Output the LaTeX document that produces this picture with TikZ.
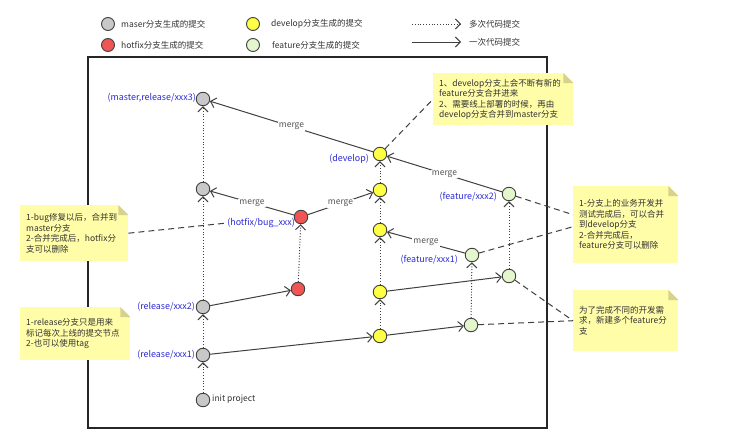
\documentclass[tikz,border=0pt]{standalone}
\usepackage{fontspec}
\setmainfont{Noto Sans CJK SC}
\usetikzlibrary{arrows.meta}
\definecolor{linec}{HTML}{404040}
\definecolor{mfill}{HTML}{C8C8C8}
\definecolor{hfill}{HTML}{F05555}
\definecolor{dfill}{HTML}{FFFF44}
\definecolor{ffill}{HTML}{E4F6CC}
\definecolor{lblue}{HTML}{2A2AD8}
\definecolor{mtext}{HTML}{555555}
\definecolor{notefill}{HTML}{FFFDA8}
\definecolor{foldc}{HTML}{D6D28C}
\definecolor{ttext}{HTML}{333333}
\begin{document}
\begin{tikzpicture}[x=1pt,y=-1pt,
  >={Straight Barb[length=5pt,width=10pt]},
  commit/.style={circle,draw=linec,line width=0.9pt,minimum size=13.5pt,inner sep=0pt},
  mc/.style={commit,fill=mfill},
  hc/.style={commit,fill=hfill},
  dc/.style={commit,fill=dfill},
  fc/.style={commit,fill=ffill},
  lbl/.style={text=lblue,font=\fontsize{8.9}{10}\selectfont,inner sep=0pt},
  legtext/.style={text=ttext,font=\fontsize{8.5}{10}\selectfont,inner sep=0pt,anchor=west},
  one/.style={draw=linec,line width=1pt,->},
  many/.style={draw=linec,line width=1pt,dash pattern=on 1pt off 1.8pt,->},
  link/.style={draw=linec,line width=1pt,dash pattern=on 6pt off 4pt},
  mlbl/.style={fill=white,text=mtext,inner sep=1pt,font=\fontsize{8.5}{10}\selectfont},
  note/.style={fill=notefill,anchor=north west,inner xsep=6pt,inner ysep=0pt,align=left,
    text=ttext,font=\fontsize{8.5}{10.5}\selectfont},
  fold/.style={fill=foldc}
]
\useasboundingbox (0,0) rectangle (740,434);
\fill[white] (0,0) rectangle (740,434);

% legend
\node[mc,minimum size=13pt] (lg1) at (108,24) {};
\node[legtext] (lt1) at (121,24) {maser分支生成的提交};
\node[hc,minimum size=13pt] (lg2) at (108,45) {};
\node[legtext] (lt2) at (121,45) {hotfix分支生成的提交};
\node[dc,minimum size=13pt] (lg3) at (253,24) {};
\node[legtext] (lt3) at (271,24) {develop分支生成的提交};
\node[fc,minimum size=13pt] (lg4) at (253,45) {};
\node[legtext] (lt4) at (272,45) {feature分支生成的提交};
\coordinate (la1) at (412,24);
\coordinate (la2) at (461,24);
\coordinate (lb1) at (412,42);
\coordinate (lb2) at (461,42);
\draw[many] (la1) -- (la2);
\draw[one] (lb1) -- (lb2);
\node[legtext] (lt5) at (469,24) {多次代码提交};
\node[legtext] (lt6) at (469,42) {一次代码提交};

% frame
\draw[line width=1.1pt,black!85] (88,57) rectangle (547,428);

% notes
\node[note,text width=128pt,minimum height=52pt] (n1) at (433,73)
 {1、develop分支上会不断有新的\\feature分支合并进来\\2、需要线上部署的时候，再由\\develop分支合并到master分支};
\node[note,text width=96pt,minimum height=56pt] (n2) at (20,205)
 {1-bug修复以后，合并到\\master分支\\2-合并完成后，hotfix分\\支可以删除};
\node[note,text width=98pt,minimum height=53pt] (n3) at (20,307)
 {1-release分支只是用来\\标记每次上线的提交节点\\2-也可以使用tag};
\node[note,text width=93pt,minimum height=77pt] (n4) at (573,186)
 {1-分支上的业务开发并\\测试完成后，可以合并\\到develop分支\\2-合并完成后，\\feature分支可以删除};
\node[note,text width=93pt,minimum height=61pt] (n5) at (573,290)
 {为了完成不同的开发需\\求，新建多个feature分\\支};
\foreach \n in {n1,n2,n3,n4,n5}{
  \fill[white] (\n.north east) -- ++(-10,0) -- ++(10,10) -- cycle;
  \fill[fold] (\n.north east) ++(-10,0) -- ++(10,10) -- ++(-10,0) -- cycle;
}

% commits
\node[mc] (m3) at (203,99) {};
\node[mc] (m2) at (203,189) {};
\node[mc] (rx2) at (203,307) {};
\node[mc] (rx1) at (203,355) {};
\node[mc] (init) at (203,400) {};
\node[hc] (h2) at (301,217) {};
\node[hc] (h1) at (298,289) {};
\node[dc] (dev) at (380,154) {};
\node[dc] (d3) at (380,190) {};
\node[dc] (d2) at (380,230) {};
\node[dc] (d1b) at (380,292) {};
\node[dc] (d1) at (380,336) {};
\node[fc] (f2) at (509,194) {};
\node[fc] (f1) at (472,255) {};
\node[fc] (f2b) at (509,276) {};
\node[fc] (f1b) at (471,325) {};

% labels
\node[lbl,anchor=east] (lm3) at (196,98) {(master,release/xxx3)};
\node[lbl,anchor=east] (lrx2) at (195,307) {(release/xxx2)};
\node[lbl,anchor=east] (lrx1) at (195,355) {(release/xxx1)};
\node[legtext,anchor=west] (linit) at (212,399) {init project};
\node[lbl,anchor=east] (h2l) at (295,223) {(hotfix/bug\_xxx)};
\node[lbl,anchor=east] (ldev) at (369,159) {(develop)};
\node[lbl,anchor=east] (lf2) at (497,197) {(feature/xxx2)};
\node[lbl,anchor=east] (lf1) at (458,260) {(feature/xxx1)};

% dotted commit chains
\draw[many] (init) -- (rx1);
\draw[many] (rx1) -- (rx2);
\draw[many] (rx2) -- (m2);
\draw[many] (m2) -- (m3);
\draw[many] (h1) -- (h2);
\draw[many] (d1) -- (d1b);
\draw[many] (d1b) -- (d2);
\draw[many] (d2) -- (d3);
\draw[many] (d3) -- (dev);
\draw[many] (f1b) -- (f1);
\draw[many] (f2b) -- (f2);

% single commits
\draw[one] (rx1) -- (d1);
\draw[one] (rx2) -- (h1);
\draw[one] (d1b) -- (f2b);
\draw[one] (d1) -- (f1b);

% merges
\draw[one] (dev) -- node[mlbl] (mg1) {merge} (m3);
\draw[one] (f2) -- node[mlbl] (mg2) {merge} (dev);
\draw[one] (f1) -- node[mlbl] (mg3) {merge} (d2);
\draw[one] (h2) -- node[mlbl] (mg4) {merge} (d3);
\draw[one] (h2) -- node[mlbl] (mg5) {merge} (m2);

% note links
\draw[link] (dev) -- (n1.west);
\draw[link] (n2.east) -- (h2l.west);
\draw[link] (f2) -- ([yshift=10pt]n4.west);
\draw[link] (f1) -- ([yshift=-2pt]n4.west);
\draw[link] (f2b) -- (n5.west);
\draw[link] (f1b) -- (n5.west);
\end{tikzpicture}
\end{document}
